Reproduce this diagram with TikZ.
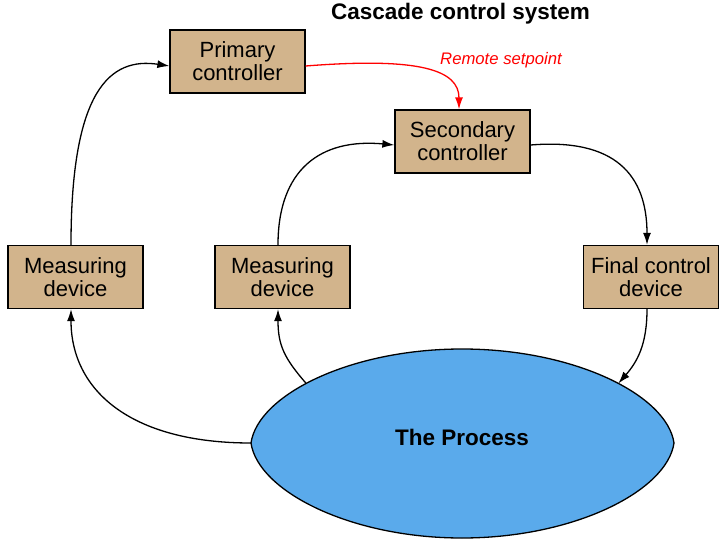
\documentclass[tikz,border=0pt]{standalone}
\usepackage{fontspec}
\setmainfont{Liberation Sans}
\usetikzlibrary{arrows.meta}
\definecolor{boxtan}{RGB}{210,180,140}
\definecolor{procblue}{RGB}{90,170,235}
\begin{document}
\begin{tikzpicture}[x=1pt,y=-1pt,
  blockbox/.style={draw=black,line width=1.3pt,fill=boxtan,minimum width=135pt,minimum height=63pt,inner sep=0pt,align=center,font=\fontsize{22}{23}\selectfont},
  conn/.style={line width=1.3pt,-{Latex[length=12pt,width=8pt]}}]
\useasboundingbox (0,0) rectangle (726,546);
\node[blockbox] (pc) at (237.5,61.5) {Primary\\controller};
\node[blockbox] (sc) at (462.5,141.5) {Secondary\\controller};
\node[blockbox] (ml) at (75.5,277) {Measuring\\device};
\node[blockbox] (mm) at (282.5,277) {Measuring\\device};
\node[blockbox] (fc) at (651,277) {Final control\\device};
\draw[line width=1.3pt,fill=procblue]
  (251,443) coordinate (pl)
  .. controls (258,395) and (350,349) .. (462,349)
  coordinate[pos=0.45] (pa)
  .. controls (574,349) and (667,395) .. (674,443)
  coordinate[pos=0.55] (pb)
  .. controls (667,491) and (574,538) .. (462,538)
  .. controls (350,538) and (258,491) .. (251,443) -- cycle;
\node[font=\bfseries\fontsize{22.5}{24}\selectfont] (proc) at (462,437) {The Process};
\node[font=\bfseries\fontsize{22.5}{24}\selectfont] (title) at (460.5,14) {Cascade control system};
\node[text=red,font=\itshape\fontsize{16.7}{18}\selectfont] (rs) at (501,60) {Remote setpoint};
\draw[conn] ([xshift=-4.5pt]ml.north) .. controls (71,90) and (110,57) .. ([yshift=-4.5pt]pc.west);
\draw[conn] ([xshift=-4.5pt]mm.north) .. controls (278,170) and (320,138) .. ([yshift=-3.5pt]sc.west);
\draw[conn,red] ([yshift=-4.5pt]pc.east) .. controls (420,57) and (459,70) .. ([xshift=-3.5pt]sc.north);
\draw[conn] ([yshift=-3.5pt]sc.east) .. controls (615,138) and (647,175) .. ([xshift=-4pt]fc.north);
\draw[conn] ([xshift=-4pt]fc.south) .. controls (647,345) and (637,362) .. (pb);
\draw[conn] (pl) .. controls (130,443) and (71,390) .. ([xshift=-4.5pt]ml.south);
\draw[conn] (pa) .. controls (284,358) and (278,345) .. ([xshift=-4.5pt]mm.south);
\end{tikzpicture}
\end{document}
